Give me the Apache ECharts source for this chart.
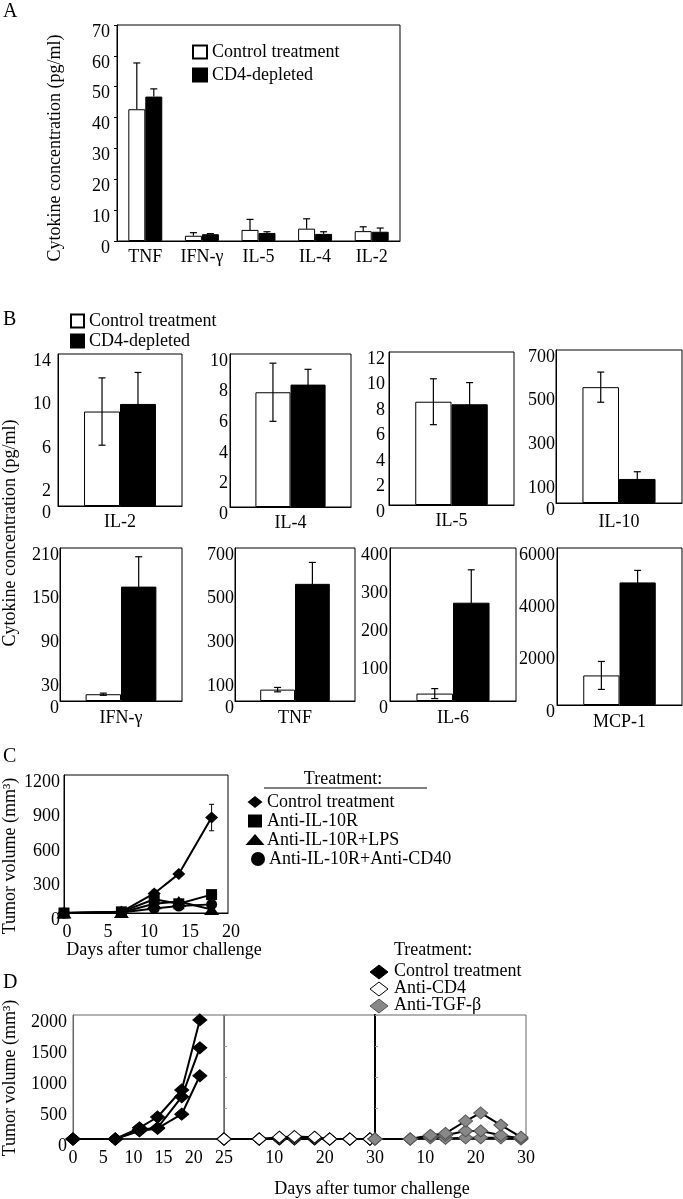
<!DOCTYPE html>
<html><head><meta charset="utf-8">
<script src="https://cdn.jsdelivr.net/npm/echarts@6/dist/echarts.min.js"></script>
<style>html,body{margin:0;padding:0;background:#fff}#c{width:683px;height:1199px}</style>
</head><body><div id="c"></div><script>
const FONT = "'Liberation Serif','Times New Roman',serif";

// ---------- Panel A ----------
const catsA = ['TNF', 'IFN-γ', 'IL-5', 'IL-4', 'IL-2'];
const ctrlA = [42.7, 1.7, 3.6, 4.0, 3.2];
const ctrlAErr = [15, 1.0, 3.4, 3.2, 1.4];
const cd4A = [46.8, 2.2, 2.6, 2.3, 3.0];
const cd4AErr = [2.5, 0.2, 0.4, 0.7, 1.2];
const ticksA = [0, 10, 20, 30, 40, 50, 60, 70];

// ---------- Panel B ----------
const catsB = ['IL-2', 'IL-4', 'IL-5', 'IL-10', 'IFN-γ', 'TNF', 'IL-6', 'MCP-1'];
const ctrlB = [8.7, 7.5, 8.1, 530, 9.3, 52, 19.4, 1130];
const ctrlBErr = [3.1, 1.9, 1.8, 69, 1.5, 10, 13, 535];
const cd4B = [9.4, 8.0, 7.9, 110, 157, 536, 257, 4685];
const cd4BErr = [2.9, 1.0, 1.7, 33, 41, 98, 86, 460];
const ticksB = [[0, 2, 6, 10, 14], [0, 2, 4, 6, 8, 10], [0, 2, 4, 6, 8, 10, 12], [0, 100, 300, 500, 700],
                [0, 30, 90, 150, 210], [0, 100, 300, 500, 700], [0, 100, 200, 300, 400], [0, 2000, 4000, 6000]];

// ---------- Panel C ----------
const daysC = [0, 7, 11, 14, 18];
const ctrlC = [0, 10, 170, 340, 830];
const ctrlCErr = [0, 0, 30, 20, 115];
const il10rC = [0, 10, 120, 80, 160];
const lpsC = [0, 5, 80, 100, 30];
const cd40C = [0, 5, 40, 60, 75];
const ticksCx = [0, 5, 10, 15, 20];
const ticksCy = [0, 300, 600, 900, 1200];
const legendC = ['Control treatment', 'Anti-IL-10R', 'Anti-IL-10R+LPS', 'Anti-IL-10R+Anti-CD40'];

// ---------- Panel D ----------
const daysD1 = [0, 7, 11, 14, 18, 21];
const ctrlD1 = [0, 0, 180, 355, 790, 1920];
const ctrlD2 = [0, 0, 150, 180, 680, 1470];
const ctrlD3 = [0, 0, 130, 170, 400, 1020];
const daysD = [0, 7, 11, 14, 18, 21, 25, 29];
const cd4D1 = [0, 0, 30, 40, 30, 0, 0, 0];
const cd4D2 = [0, 0, 10, 20, 10, 0, 0, 0];
const cd4D3 = [0, 0, 0, 0, 0, 0, 0, 0];
const tgfD1 = [0, 0, 60, 90, 290, 420, 225, 30];
const tgfD2 = [0, 0, 50, 60, 130, 130, 60, 10];
const tgfD3 = [0, 0, 20, 10, 20, 20, 20, 0];
const legendD = ['Control treatment', 'Anti-CD4', 'Anti-TGF-β'];

// ---------- build ----------
const FS = 18;
const grids = [], xAxes = [], yAxes = [], series = [], legends = [], graphics = [];
const lbl = {color: '#000', fontFamily: FONT, fontSize: FS};
const plain = v => String(v);

function tickFmt(list) { return v => (list.indexOf(v) >= 0 ? String(v) : ''); }
function gcdStep(list) { let s = list[list.length - 1]; for (let i = 1; i < list.length; i++) { let a = list[i] - list[i - 1]; let b = s; while (b) { const t = b; b = a % b; a = t; } s = a; } return s; }

function errBar(gi, vals, errs, side, gap, both) {
  return {
    type: 'custom', xAxisIndex: gi, yAxisIndex: gi, z: 6, silent: true,
    data: vals.map((v, i) => [i, v, errs[i]]),
    renderItem(params, api) {
      const i = api.value(0), v = api.value(1), e = api.value(2);
      if (!e) return;
      const bw = api.size([1, 0])[0];
      const w = bw * (1 - gap) / 2;
      const p = api.coord([i, v]);
      const cx = p[0] + side * w / 2;
      const yt = api.coord([i, v + e])[1];
      const yb = both ? api.coord([i, Math.max(0, v - e)])[1] : p[1];
      const cap = 3.5, st = {stroke: '#000', lineWidth: 1.2};
      const ch = [{type: 'line', shape: {x1: cx, y1: yt, x2: cx, y2: yb}, style: st},
                  {type: 'line', shape: {x1: cx - cap, y1: yt, x2: cx + cap, y2: yt}, style: st}];
      if (both) ch.push({type: 'line', shape: {x1: cx - cap, y1: yb, x2: cx + cap, y2: yb}, style: st});
      return {type: 'group', children: ch};
    }
  };
}

function barPair(gi, ctrl, cd4, gap) {
  series.push({type: 'bar', name: 'Control treatment', xAxisIndex: gi, yAxisIndex: gi, data: ctrl,
    barGap: '0%', barCategoryGap: (gap * 100) + '%',
    itemStyle: {color: '#fff', borderColor: '#000', borderWidth: 1}});
  series.push({type: 'bar', name: 'CD4-depleted', xAxisIndex: gi, yAxisIndex: gi, data: cd4,
    barGap: '0%', barCategoryGap: (gap * 100) + '%',
    itemStyle: {color: '#000', borderColor: '#000', borderWidth: 1}});
}

// Panel A (grid 0)
grids.push({left: 117, top: 25, width: 283, height: 216, show: true, borderColor: '#000', borderWidth: 1});
xAxes.push({gridIndex: 0, type: 'category', data: catsA, axisLine: {lineStyle: {color: '#000'}},
  axisTick: {show: false}, axisLabel: Object.assign({margin: 7, lineHeight: 18}, lbl)});
yAxes.push({gridIndex: 0, type: 'value', min: ticksA[0], max: ticksA[ticksA.length - 1], interval: 10,
  axisLine: {show: true, lineStyle: {color: '#000'}}, axisTick: {show: true, length: 3, lineStyle: {color: '#000'}},
  splitLine: {show: false},
  axisLabel: Object.assign({margin: 7, verticalAlign: 'top', lineHeight: 14, formatter: plain}, lbl)});
barPair(0, ctrlA, cd4A, 0.40);
series.push(errBar(0, ctrlA, ctrlAErr, -1, 0.40, false));
series.push(errBar(0, cd4A, cd4AErr, 1, 0.40, false));
legends.push({left: 192, top: 43, orient: 'vertical', padding: 0, itemWidth: 14, itemHeight: 13, itemGap: 5,
  icon: 'rect', selectedMode: false, data: ['Control treatment', 'CD4-depleted'],
  textStyle: {color: '#000', fontFamily: FONT, fontSize: FS, lineHeight: 18}});

// Panel B (grids 1-8)
const boxB = [
  [58, 354, 124, 152], [230, 354, 121, 153], [389, 352, 125, 153], [556, 350, 126, 153],
  [60, 548, 122, 153], [235, 548, 120, 153], [390, 548, 126, 153], [557, 548, 125, 157]];
const labMarginB = [7, 7, 7, 10, 8, 8, 8, 8];
const yMarginB = [7, 2, 4, 1, 1, 1, 2, 2];
for (let k = 0; k < 8; k++) {
  const gi = 1 + k, b = boxB[k], t = ticksB[k];
  grids.push({left: b[0], top: b[1], width: b[2], height: b[3], show: true, borderColor: '#000', borderWidth: 1});
  xAxes.push({gridIndex: gi, type: 'category', data: [catsB[k]], axisLine: {lineStyle: {color: '#000'}},
    axisTick: {show: false}, axisLabel: Object.assign({margin: labMarginB[k], lineHeight: 18}, lbl)});
  yAxes.push({gridIndex: gi, type: 'value', min: 0, max: t[t.length - 1], interval: gcdStep(t),
    axisLine: {show: true, lineStyle: {color: '#000'}}, axisTick: {show: false}, splitLine: {show: false},
    axisLabel: Object.assign({margin: yMarginB[k], verticalAlign: 'top', lineHeight: 14, formatter: tickFmt(t)}, lbl)});
  barPair(gi, [ctrlB[k]], [cd4B[k]], 0.42);
  series.push(errBar(gi, [ctrlB[k]], [ctrlBErr[k]], -1, 0.42, true));
  series.push(errBar(gi, [cd4B[k]], [cd4BErr[k]], 1, 0.42, true));
}
legends.push({left: 70, top: 312, orient: 'vertical', padding: 0, itemWidth: 13, itemHeight: 13, itemGap: 2,
  icon: 'rect', selectedMode: false, data: ['Control treatment', 'CD4-depleted'],
  textStyle: {color: '#000', fontFamily: FONT, fontSize: FS, lineHeight: 18}});

// Panel C (grid 9)
grids.push({left: 64, top: 775, width: 164, height: 138, show: true, borderColor: '#000', borderWidth: 1});
xAxes.push({gridIndex: 9, type: 'value', min: ticksCx[0], max: ticksCx[ticksCx.length - 1], interval: 5,
  axisLine: {show: true, onZero: false, lineStyle: {color: '#000'}}, axisTick: {show: false}, splitLine: {show: false},
  axisLabel: Object.assign({margin: 10, lineHeight: 18, padding: [0, 0, 0, 6], formatter: plain}, lbl)});
yAxes.push({gridIndex: 9, type: 'value', min: ticksCy[0], max: ticksCy[ticksCy.length - 1], interval: 300,
  axisLine: {show: true, lineStyle: {color: '#000'}}, axisTick: {show: false}, splitLine: {show: false},
  axisLabel: Object.assign({margin: 4, verticalAlign: 'top', lineHeight: 14, formatter: plain}, lbl)});
function lineC(name, vals, symbol, size) {
  series.push({type: 'line', name, xAxisIndex: 9, yAxisIndex: 9, data: daysC.map((d, i) => [d, vals[i]]),
    symbol, symbolSize: size, lineStyle: {color: '#000', width: 2}, itemStyle: {color: '#000'}, z: 4});
}
lineC('C: ' + legendC[3], cd40C, 'circle', 11);
lineC('C: ' + legendC[2], lpsC, 'triangle', [15, 11]);
lineC('C: ' + legendC[1], il10rC, 'rect', 11);
lineC('C: ' + legendC[0], ctrlC, 'diamond', [13, 12]);
series.push({type: 'custom', xAxisIndex: 9, yAxisIndex: 9, z: 6, silent: true,
  data: daysC.map((d, i) => [d, ctrlC[i], ctrlCErr[i]]),
  renderItem(params, api) {
    const e = api.value(2); if (!e) return;
    const x = api.value(0), v = api.value(1);
    const top = api.coord([x, v + e]), bot = api.coord([x, v - e]);
    const st = {stroke: '#000', lineWidth: 1}, cap = 2.5;
    return {type: 'group', children: [
      {type: 'line', shape: {x1: top[0], y1: top[1], x2: bot[0], y2: bot[1]}, style: st},
      {type: 'line', shape: {x1: top[0] - cap, y1: top[1], x2: top[0] + cap, y2: top[1]}, style: st},
      {type: 'line', shape: {x1: bot[0] - cap, y1: bot[1], x2: bot[0] + cap, y2: bot[1]}, style: st}]};
  }});

// Panel D (grids 10-12)
const boxD = [[73, 151], [224, 151], [375, 151]];
for (let k = 0; k < 3; k++) {
  const gi = 10 + k;
  grids.push({left: boxD[k][0], top: 1015, width: boxD[k][1], height: 124, show: true, borderColor: '#666', borderWidth: 1});
  xAxes.push({gridIndex: gi, type: 'value', min: 0, max: k === 0 ? 25 : 30, interval: k === 0 ? 5 : 10,
    axisLine: {show: true, onZero: false, lineStyle: {color: '#000', width: 1.5}}, axisTick: {show: false}, splitLine: {show: false},
    axisLabel: Object.assign({margin: 10, lineHeight: 18, showMinLabel: k === 0, formatter: plain}, lbl)});
  yAxes.push({gridIndex: gi, type: 'value', min: 0, max: 2000, interval: 500,
    axisLine: {show: true, lineStyle: {color: k === 2 ? '#000' : '#666', width: k === 2 ? 2 : 1}},
    axisTick: {show: k > 0, inside: true, length: 3, lineStyle: {color: '#999'}}, splitLine: {show: false},
    axisLabel: k === 0 ? Object.assign({margin: 6, verticalAlign: 'top', lineHeight: 14, formatter: plain}, lbl) : {show: false}});
}
function lineD(gi, days, vals, fill, border) {
  series.push({type: 'line', xAxisIndex: gi, yAxisIndex: gi, data: days.map((d, i) => [d, vals[i]]),
    symbol: 'diamond', symbolSize: [14, 12], lineStyle: {color: '#000', width: 2},
    itemStyle: {color: fill, borderColor: border, borderWidth: 1}, z: 4});
}
lineD(10, daysD1, ctrlD3, '#000', '#000');
lineD(10, daysD1, ctrlD2, '#000', '#000');
lineD(10, daysD1, ctrlD1, '#000', '#000');
lineD(11, daysD, cd4D3, '#fff', '#000');
lineD(11, daysD, cd4D2, '#fff', '#000');
lineD(11, daysD, cd4D1, '#fff', '#000');
lineD(12, daysD, tgfD3, '#888', '#555');
lineD(12, daysD, tgfD2, '#888', '#555');
lineD(12, daysD, tgfD1, '#888', '#555');

// ---------- text / legend graphics ----------
function T(x, y, text, opts) {
  graphics.push(Object.assign({type: 'text', x, y, silent: true,
    style: Object.assign({text, fill: '#000', fontFamily: FONT, fontSize: FS, align: 'left', verticalAlign: 'middle'}, (opts && opts.style) || {})},
    opts && opts.rotation ? {rotation: opts.rotation} : {}));
}
T(3, 12, 'A', {style: {fontSize: 20}});
T(3, 320, 'B', {style: {fontSize: 20}});
T(3, 757, 'C', {style: {fontSize: 20}});
T(3, 983, 'D', {style: {fontSize: 20}});
T(55, 148, 'Cytokine concentration (pg/ml)', {rotation: Math.PI / 2, style: {align: 'center'}});
T(10, 533, 'Cytokine concentration (pg/ml)', {rotation: Math.PI / 2, style: {align: 'center'}});
T(10, 856, 'Tumor volume (mm³)', {rotation: Math.PI / 2, style: {align: 'center'}});
T(10, 1078, 'Tumor volume (mm³)', {rotation: Math.PI / 2, style: {align: 'center'}});
T(164, 950, 'Days after tumor challenge', {style: {align: 'center'}});
T(372, 1189, 'Days after tumor challenge', {style: {align: 'center'}});

// Legend C
T(343, 779, 'Treatment:', {style: {align: 'center'}});
graphics.push({type: 'line', silent: true, shape: {x1: 264, y1: 788, x2: 427, y2: 788}, style: {stroke: '#000', lineWidth: 1}});
const rowsC = [802, 821, 840, 859];
graphics.push({type: 'polygon', silent: true, shape: {points: [[255, rowsC[0] - 6], [262.5, rowsC[0]], [255, rowsC[0] + 6], [247.5, rowsC[0]]]}, style: {fill: '#000'}});
graphics.push({type: 'rect', silent: true, shape: {x: 248, y: rowsC[1] - 6.5, width: 14, height: 13}, style: {fill: '#000'}});
graphics.push({type: 'polygon', silent: true, shape: {points: [[255, rowsC[2] - 6], [264.5, rowsC[2] + 5], [245.5, rowsC[2] + 5]]}, style: {fill: '#000'}});
graphics.push({type: 'circle', silent: true, shape: {cx: 258, cy: rowsC[3], r: 7}, style: {fill: '#000'}});
for (let i = 0; i < 4; i++) T(i === 3 ? 269 : 267, rowsC[i], legendC[i]);

// Legend D
T(394, 950, 'Treatment:');
const rowsD = [972, 989, 1006];
const fillD = [['#000', '#000'], ['#fff', '#000'], ['#888', '#555']];
for (let i = 0; i < 3; i++) {
  const y = rowsD[i];
  graphics.push({type: 'polygon', silent: true, shape: {points: [[379, y - 7], [388, y], [379, y + 7], [370, y]]},
    style: {fill: fillD[i][0], stroke: fillD[i][1], lineWidth: 1}});
  T(394, y - 1, legendD[i]);
}

const chart = echarts.init(document.getElementById('c'), null, {renderer: 'canvas'});
chart.setOption({
  animation: false, backgroundColor: '#fff',
  grid: grids, xAxis: xAxes, yAxis: yAxes, series, legend: legends, graphic: graphics
});
</script></body></html>
